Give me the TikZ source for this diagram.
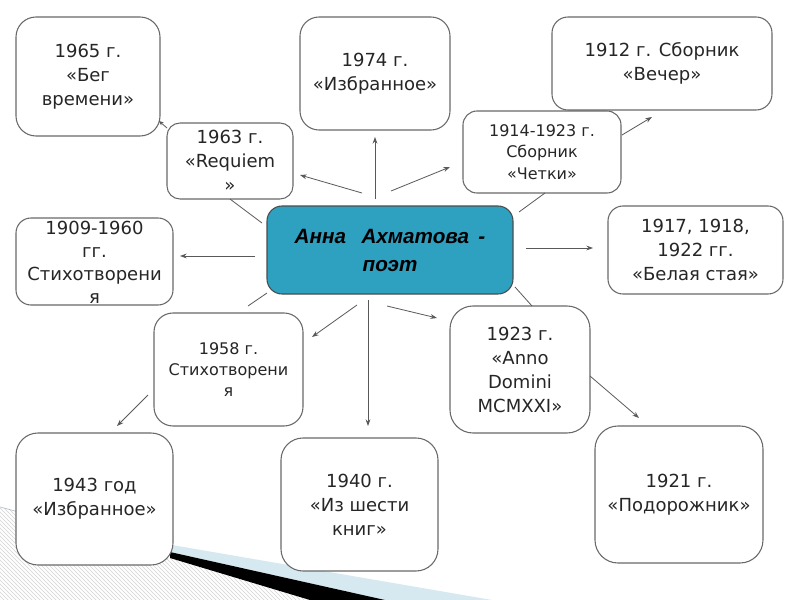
\documentclass[tikz,border=0pt]{standalone}
\usepackage{fontspec}
\setmainfont{DejaVu Sans}
\newfontfamily\centerfont{Liberation Sans}
\usetikzlibrary{arrows.meta,patterns}
\definecolor{boxgray}{RGB}{105,105,105}
\definecolor{hubteal}{RGB}{46,160,192}
\definecolor{paleblue}{RGB}{214,233,240}
\definecolor{hatchgray}{RGB}{212,212,212}
\tikzset{
  box/.style={draw=boxgray, line width=0.8pt, fill=white, align=center, inner sep=0pt,
              text=black!85, font=\fontsize{13.5}{18}\selectfont},
  smallbox/.style={box, font=\fontsize{12}{16}\selectfont},
  hub/.style={draw=black!70, line width=0.8pt, fill=hubteal, align=center, inner sep=0pt,
              text=black, font=\centerfont\bfseries\itshape\fontsize{15.5}{21}\selectfont},
  link/.style={draw=black!65, line width=0.6pt},
  arr/.style={link, -{Stealth[length=5pt,width=3.6pt]}},
}
\begin{document}
\begin{tikzpicture}[x=0.75pt,y=-0.75pt]
\useasboundingbox (0,0) rectangle (800,600);
\fill[white] (0,0) rectangle (800,600);
% bottom decoration
\fill[pattern=north west lines, pattern color=hatchgray] (0,507) -- (170,558) -- (310,600) -- (0,600) -- cycle;
\draw[paleblue!60!gray, line width=0.5pt] (0,507) -- (170,552);
\fill[paleblue] (172,545) -- (492,600) -- (385,600) -- (170,552) -- cycle;
\fill[black] (170,552) -- (385,600) -- (310,600) -- (170,558) -- cycle;

% boxes
\node[box, minimum width=108pt, minimum height=89.25pt, rounded corners=15pt] (n65) at (88,76.5) {1965 г.\\«Бег\\времени»};
\node[box, minimum width=112.5pt, minimum height=84.75pt, rounded corners=14.25pt] (n74) at (375,73.5) {1974 г.\\«Избранное»};
\node[box, minimum width=165pt, minimum height=69.75pt, rounded corners=12pt] (n12) at (662,63.5) {1912 г. Сборник\\«Вечер»};
\node[box, minimum width=94.5pt, minimum height=57pt, rounded corners=9.75pt] (n63) at (230,161) {1963 г.\\«Requiem\\»};
\node[smallbox, minimum width=118.5pt, minimum height=61.5pt, rounded corners=10.5pt] (n14) at (542,152) {1914-1923 г.\\Сборник\\«Четки»};
\node[hub, minimum width=184.5pt, minimum height=66pt, rounded corners=11.25pt] (c) at (390,250) {Анна\hspace{0.75em}Ахматова\hspace{0.45em}-\\поэт};
\node[box, minimum width=117.75pt, minimum height=65.25pt, rounded corners=11.25pt] (n09) at (94.5,261.5) {};
\node[align=center, inner sep=0pt, text=black!85, font=\fontsize{13.5}{17.25}\selectfont] (n09t) at (94.5,262.5) {1909-1960\\гг.\\Стихотворени\\я};
\node[box, minimum width=131.25pt, minimum height=66pt, rounded corners=11.25pt] (n17) at (695.5,250) {1917, 1918,\\1922 гг.\\«Белая стая»};
\node[smallbox, minimum width=111.75pt, minimum height=84.75pt, rounded corners=14.25pt] (n58) at (228.5,369.5) {1958 г.\\Стихотворени\\я};
\node[box, minimum width=105pt, minimum height=95.25pt, rounded corners=17.25pt] (n23) at (520,369.5) {1923 г.\\«Anno\\Domini\\MCMXXI»};
\node[box, minimum width=117.75pt, minimum height=99pt, rounded corners=16.5pt] (n43) at (94.5,499) {1943 год\\«Избранное»};
\node[box, minimum width=117.75pt, minimum height=99.75pt, rounded corners=16.5pt] (n40) at (359.5,504.5) {1940 г.\\«Из шести\\книг»};
\node[box, minimum width=126pt, minimum height=102.75pt, rounded corners=17.25pt] (n21) at (679,494.5) {1921 г.\\«Подорожник»};

% connector end points
\coordinate (a1s) at (362,193); \coordinate (a1e) at (300,175);
\coordinate (a2s) at (375,199); \coordinate (a2e) at (375,137);
\coordinate (a3s) at (391,191); \coordinate (a3e) at (450,167);
\coordinate (a4s) at (622,135); \coordinate (a4e) at (652,117);
\coordinate (l1s) at (545,193); \coordinate (l1e) at (519,212);
\coordinate (l2s) at (230,199); \coordinate (l2e) at (262,223);
\coordinate (a5s) at (167,128); \coordinate (a5e) at (159,121);
\coordinate (a6s) at (255,256); \coordinate (a6e) at (180,256);
\coordinate (a7s) at (526,248); \coordinate (a7e) at (593,248);
\coordinate (l3s) at (515,287); \coordinate (l3e) at (532,306);
\coordinate (l4s) at (267,293); \coordinate (l4e) at (248,306);
\coordinate (a8s) at (357,305); \coordinate (a8e) at (312,337);
\coordinate (a9s) at (368,300); \coordinate (a9e) at (368,426);
\coordinate (a10s) at (387,306); \coordinate (a10e) at (437,318);
\coordinate (a11s) at (148,395); \coordinate (a11e) at (117,426);
\coordinate (a12s) at (590,376); \coordinate (a12e) at (639,418);

\draw[arr] (a1s) -- (a1e);
\draw[arr] (a2s) -- (a2e);
\draw[arr] (a3s) -- (a3e);
\draw[arr] (a4s) -- (a4e);
\draw[link] (l1s) -- (l1e);
\draw[link] (l2s) -- (l2e);
\draw[link, -{Stealth[length=3.5pt,width=3pt]}] (a5s) -- (a5e);
\draw[arr] (a6s) -- (a6e);
\draw[arr] (a7s) -- (a7e);
\draw[link] (l3s) -- (l3e);
\draw[link] (l4s) -- (l4e);
\draw[arr] (a8s) -- (a8e);
\draw[arr] (a9s) -- (a9e);
\draw[arr] (a10s) -- (a10e);
\draw[arr] (a11s) -- (a11e);
\draw[arr] (a12s) -- (a12e);
\end{tikzpicture}
\end{document}
